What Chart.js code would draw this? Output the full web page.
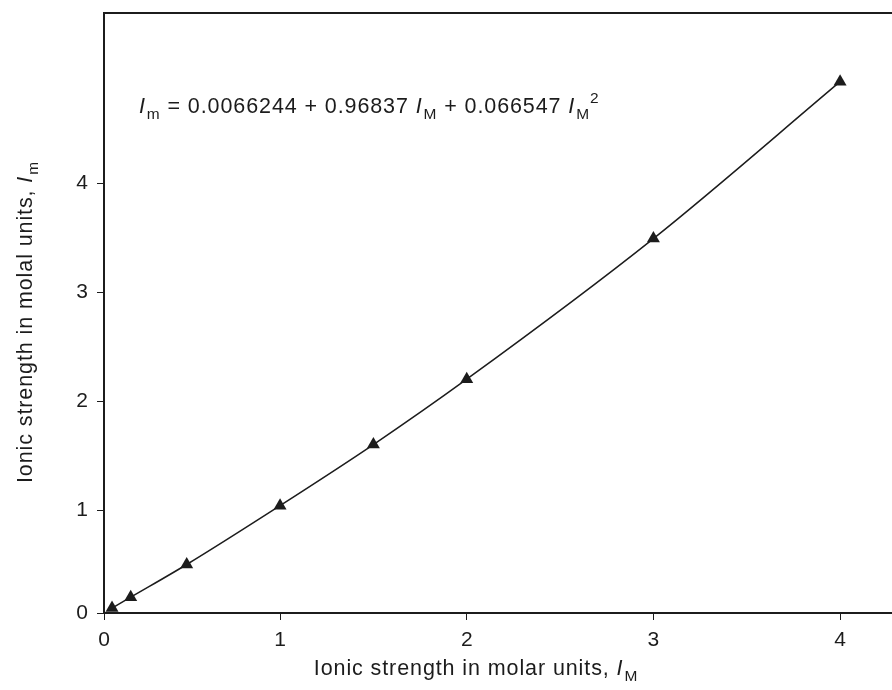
<!DOCTYPE html>
<html>
<head>
<meta charset="utf-8">
<script src="https://cdn.jsdelivr.net/npm/chart.js@4.4.0/dist/chart.umd.min.js"></script>
<style>
  html, body { margin: 0; padding: 0; background: #fff; overflow: hidden; }
  #ionicChart { display: block; }
</style>
</head>
<body>
<canvas id="ionicChart" width="892" height="690"></canvas>
<script>
// measured points: molar ionic strength vs molal ionic strength
const molarStrength = [0.1, 0.2, 0.5, 1, 1.5, 2, 3, 4];
const molalStrength = [0.1, 0.2, 0.5, 1.04, 1.6, 2.2, 3.49, 4.93];
const xTickValues = [0, 1, 2, 3, 4];
const yTickValues = [0, 1, 2, 3, 4];

const FONT = '"Liberation Sans", Arial, Helvetica, sans-serif';
const INK = "#1c1c1c";

// writes a run of text pieces (italic / subscript / superscript), returns its width
function richText(ctx, parts, x, y, size, draw = true) {
  let cx = x;
  ctx.letterSpacing = "0.9px";
  parts.forEach((p) => {
    const s = p.sub || p.sup ? size * 0.72 : size;
    ctx.font = (p.italic ? "italic " : "") + s + "px " + FONT;
    let dy = 0;
    if (p.sub) dy = size * 0.3;
    if (p.sup) dy = -size * 0.45;
    if (draw) ctx.fillText(p.t, cx, y + dy);
    cx += ctx.measureText(p.t).width + (p.italic ? 1 : 0);
  });
  ctx.letterSpacing = "0px";
  return cx - x;
}

const equation = [
  { t: "I", italic: true },
  { t: "m", sub: true },
  { t: " = 0.0066244 + 0.96837 " },
  { t: "I", italic: true },
  { t: "M", sub: true },
  { t: " + 0.066547 " },
  { t: "I", italic: true },
  { t: "M", sub: true },
  { t: "2", sup: true },
];
const xTitle = [
  { t: "Ionic strength in molar units, " },
  { t: "I", italic: true },
  { t: "M", sub: true },
];
const yTitle = [
  { t: "Ionic strength in molal units, " },
  { t: "I", italic: true },
  { t: "m", sub: true },
];

const decorations = {
  id: "decorations",
  afterDraw(chart) {
    const ctx = chart.ctx;
    const area = chart.chartArea;
    ctx.save();
    // frame line along the top of the plot
    ctx.strokeStyle = INK;
    ctx.lineWidth = 2;
    ctx.beginPath();
    ctx.moveTo(area.left - 1, area.top);
    ctx.lineTo(area.right, area.top);
    ctx.stroke();

    ctx.fillStyle = INK;
    ctx.textBaseline = "alphabetic";
    ctx.textAlign = "left";

    richText(ctx, equation, 139, 113, 21.5);

    const xw = richText(ctx, xTitle, 0, 0, 21.5, false);
    richText(ctx, xTitle, 476 - xw / 2, 675, 21.5);

    const yw = richText(ctx, yTitle, 0, 0, 21.5, false);
    ctx.translate(32, 322);
    ctx.rotate(-Math.PI / 2);
    richText(ctx, yTitle, -yw / 2, 0, 21.5);
    ctx.restore();
  },
};

// fixed axis box; also drop the label overhang padding chart.js would reserve
function fixBox(s, size) {
  if (s.isHorizontal()) s.height = size;
  else s.width = size;
  s.paddingLeft = 0;
  s.paddingRight = 0;
  s.paddingTop = 0;
  s.paddingBottom = 0;
}

new Chart(document.getElementById("ionicChart"), {
  type: "scatter",
  data: {
    datasets: [
      {
        data: molarStrength.map((x, i) => ({ x: x, y: molalStrength[i] })),
        showLine: true,
        cubicInterpolationMode: "monotone",
        borderColor: INK,
        borderWidth: 1.5,
        pointStyle: "triangle",
        pointRadius: 7.5,
        pointBackgroundColor: INK,
        pointBorderColor: INK,
        pointBorderWidth: 0,
      },
    ],
  },
  options: {
    responsive: false,
    animation: false,
    devicePixelRatio: 1,
    layout: { autoPadding: false, padding: { top: 13, left: 0, right: 0, bottom: 0 } },
    plugins: {
      legend: { display: false },
      tooltip: { enabled: false },
    },
    scales: {
      x: {
        type: "linear",
        min: 0.057,
        max: 4.278,
        afterFit: (s) => fixBox(s, 77),
        afterBuildTicks: (s) => {
          s.ticks = xTickValues.map((v) => ({ value: v === 0 ? s.min : v }));
        },
        ticks: {
          callback: (v) => (v < 0.5 ? "0" : String(v)),
          font: { size: 21, family: FONT },
          color: INK,
          padding: 8,
          maxRotation: 0,
          autoSkip: false,
        },
        grid: { drawOnChartArea: false, tickLength: 7, color: INK, lineWidth: 1 },
        border: { color: INK, width: 2 },
      },
      y: {
        type: "linear",
        min: 0.055,
        max: 5.56,
        afterFit: (s) => fixBox(s, 104),
        afterBuildTicks: (s) => {
          s.ticks = yTickValues.map((v) => ({ value: v === 0 ? s.min : v }));
        },
        ticks: {
          callback: (v) => (v < 0.5 ? "0" : String(v)),
          font: { size: 21, family: FONT },
          color: INK,
          padding: 9,
          autoSkip: false,
        },
        grid: { drawOnChartArea: false, tickLength: 7, color: INK, lineWidth: 1 },
        border: { color: INK, width: 2 },
      },
    },
  },
  plugins: [decorations],
});
</script>
</body>
</html>
